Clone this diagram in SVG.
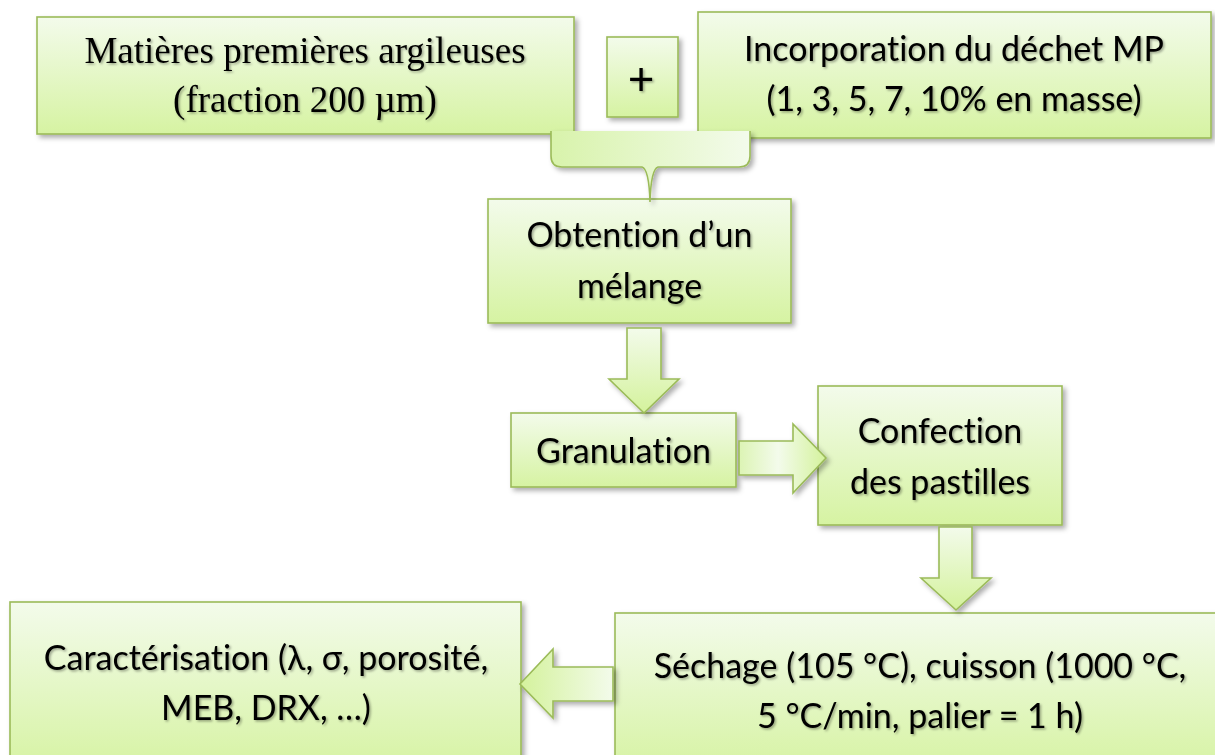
<svg xmlns="http://www.w3.org/2000/svg" width="1215" height="755" viewBox="0 0 1215 755">
<style>
.box{fill:url(#gv);stroke:#9bbb59;stroke-width:1.6;filter:url(#sh)}
.arr{stroke:#9bbb59;stroke-width:1.6;stroke-linejoin:miter;filter:url(#sh)}
.t{font-family:Lato,"Open Sans",sans-serif;font-size:34px;fill:#000;text-anchor:middle;filter:url(#ts);font-variant-ligatures:none;font-feature-settings:"liga" 0}
.s{font-family:"Liberation Serif","Times New Roman",serif;font-size:37px;fill:#000;text-anchor:middle;filter:url(#ts)}
.p{font-size:46px}
</style>
<defs>
<linearGradient id="gv" x1="0" y1="0" x2="0" y2="1">
<stop offset="0" stop-color="#f3fbeb"/><stop offset="1" stop-color="#d6f3a2"/>
</linearGradient>
<linearGradient id="gd" x1="0" y1="0" x2="0" y2="1">
<stop offset="0" stop-color="#f3fbeb"/><stop offset="1" stop-color="#d4f29c"/>
</linearGradient>
<linearGradient id="gr" x1="0" y1="0" x2="1" y2="0">
<stop offset="0" stop-color="#dcf4b4"/><stop offset="0.45" stop-color="#f3fbeb"/><stop offset="1" stop-color="#d4f29c"/>
</linearGradient>
<linearGradient id="gl" x1="1" y1="0" x2="0" y2="0">
<stop offset="0" stop-color="#f3fbeb"/><stop offset="1" stop-color="#d4f29c"/>
</linearGradient>
<linearGradient id="gb" x1="0" y1="0" x2="1" y2="0">
<stop offset="0" stop-color="#d8f3ab"/><stop offset="1" stop-color="#f3fbeb"/>
</linearGradient>
<filter id="sh" x="-10%" y="-10%" width="125%" height="130%">
<feDropShadow dx="3" dy="3" stdDeviation="2.5" flood-color="#000" flood-opacity="0.32"/>
</filter>
<filter id="ts" x="-5%" y="-20%" width="115%" height="150%">
<feDropShadow dx="1.5" dy="1.5" stdDeviation="1" flood-color="#000" flood-opacity="0.35"/>
</filter>
</defs>

<g id="n-matieres">
<rect class="box" x="37" y="17" width="537" height="117"/>
<text class="s" x="305" y="63">Matières premières argileuses</text>
<text class="s" x="305" y="112">(fraction 200 µm)</text>
</g>
<g id="n-plus">
<rect class="box" x="607" y="37" width="71" height="80"/>
<text class="t p" x="641" y="95">+</text>
</g>
<g id="n-incorporation">
<rect class="box" x="698" y="12" width="513" height="126"/>
<text class="t" x="954" y="61">Incorporation du déchet MP</text>
<text class="t" x="954" y="111">(1, 3, 5, 7, 10% en masse)</text>
</g>
<g id="n-obtention">
<rect class="box" x="488" y="199" width="303" height="124"/>
<text class="t" x="639.5" y="247">Obtention d’un</text>
<text class="t" x="639.5" y="298">mélange</text>
</g>
<g id="n-granulation">
<rect class="box" x="511" y="413" width="225" height="74"/>
<text class="t" x="623.5" y="463">Granulation</text>
</g>
<g id="n-confection">
<rect class="box" x="818" y="386" width="244" height="139"/>
<text class="t" x="940" y="443">Confection</text>
<text class="t" x="940" y="494">des pastilles</text>
</g>
<g id="n-sechage">
<rect class="box" x="615" y="613" width="610" height="160"/>
<text class="t" x="920" y="678">Séchage (105 °C), cuisson (1000 °C,</text>
<text class="t" x="920" y="728">5 °C/min, palier = 1 h)</text>
</g>
<g id="n-caracterisation">
<rect class="box" x="10" y="602" width="511" height="170"/>
<text class="t" x="266" y="670">Caractérisation (λ, σ, porosité,</text>
<text class="t" x="266" y="720">MEB, DRX, …)</text>
</g>

<g id="connectors">
<g filter="url(#sh)">
<path d="M551,131 H750 V156 Q750,167 739,167 H658 Q651,169 650,202 Q649,169 642,167 H562 Q551,167 551,156 Z" fill="url(#gb)"/>
<path d="M551,131 V156 Q551,167 562,167 H642 Q649,169 650,202 Q651,169 658,167 H739 Q750,167 750,156 V131" fill="none" stroke="#9bbb59" stroke-width="1.6"/>
</g>
<polygon class="arr" fill="url(#gd)" points="627,328 661,328 661,379 679,379 644,413 609,379 627,379"/>
<polygon class="arr" fill="url(#gr)" points="739,441 793,441 793,424 826,458 793,493 793,475 739,475"/>
<polygon class="arr" fill="url(#gd)" points="939,527 972,527 972,578 991,578 956,610 921,578 939,578"/>
<polygon class="arr" fill="url(#gl)" points="613,667 553,667 553,649 520,684 553,718 553,701 613,701"/>
</g>
</svg>
